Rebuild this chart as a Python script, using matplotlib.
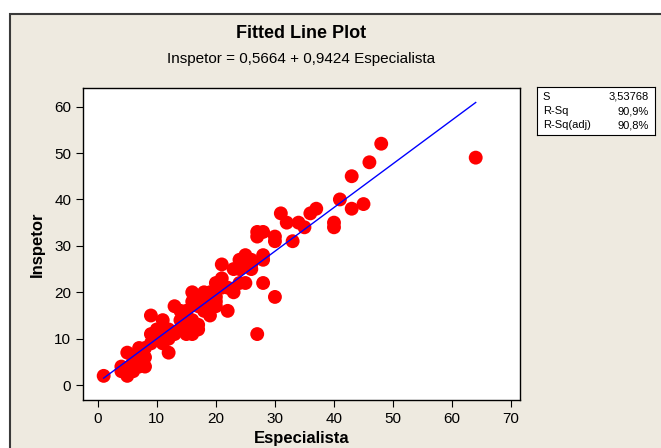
import matplotlib
matplotlib.use("Agg")
import matplotlib.pyplot as plt
from matplotlib.patches import Rectangle
import numpy as np

plt.rcParams["font.family"] = ["Liberation Sans Narrow", "Liberation Sans", "DejaVu Sans"]

# data (Especialista, Inspetor)
especialista = [1, 4, 4, 5, 5, 6, 6, 6, 7, 7, 7, 8, 8, 9, 9, 9, 10, 10, 10, 11,
                11, 11, 12, 12, 13, 13, 14, 14, 15, 15, 15, 16, 16, 16, 16, 16, 17, 17, 17, 17,
                18, 18, 18, 19, 19, 19, 20, 20, 20, 21, 21, 21, 22, 23, 23, 24, 24, 24, 25, 25,
                25, 25, 26, 26, 27, 27, 27, 28, 28, 28, 28, 30, 30, 30, 31, 32, 33, 34, 35, 36,
                37, 40, 40, 41, 43, 43, 45, 46, 48, 64, 8, 12, 14, 15, 18, 20, 22, 26]
inspetor = [2, 3, 4, 2, 7, 3, 5, 6, 4, 7, 8, 4, 8, 9, 11, 15, 10, 12, 11, 9,
            10, 14, 7, 12, 11, 17, 12, 16, 11, 13, 15, 11, 12, 14, 18, 20, 12, 13, 17, 19,
            16, 18, 20, 15, 17, 20, 17, 18, 22, 21, 23, 26, 16, 20, 25, 22, 25, 27, 22, 26,
            27, 28, 25, 26, 11, 32, 33, 22, 27, 28, 33, 19, 31, 32, 37, 35, 31, 35, 34, 37,
            38, 34, 35, 40, 38, 45, 39, 48, 52, 49, 6, 10, 14, 16, 19, 19, 21, 27]

intercept = 0.5664
slope = 0.9424
stats_names = ["S", "R-Sq", "R-Sq(adj)"]
stats_values = ["3,53768", "90,9%", "90,8%"]

W, H = 661, 448
fig = plt.figure(figsize=(W / 100, H / 100), dpi=100, facecolor="white")

# beige panel with dark border on left/top
fig.patches.append(Rectangle((10 / W, -0.01), 1.0, (H - 14) / H + 0.01,
                             transform=fig.transFigure, facecolor="#EEEAE0",
                             edgecolor="#3a3a3a", linewidth=1.5, zorder=-5))

fig.text(0.5 * (83 + 520) / W, 1 - 33 / H, "Fitted Line Plot", ha="center", va="center",
         fontsize=13, fontweight="bold")
fig.text(0.5 * (83 + 520) / W, 1 - 59 / H, "Inspetor = 0,5664 + 0,9424 Especialista",
         ha="center", va="center", fontsize=11)

ax = fig.add_axes([83 / W, 1 - 400 / H, (520 - 83) / W, (400 - 88) / H], zorder=2)
ax.set_facecolor("white")
ax.scatter(especialista, inspetor, s=100, color="#FF0000", edgecolors="none", zorder=2)
xl = np.array([min(especialista), max(especialista)])
ax.plot(xl, intercept + slope * xl, color="#0000FF", linewidth=1, zorder=3)

ax.set_xlim(-2.5, 71.5)
ax.set_ylim(-3.2, 64)
ax.set_xticks(range(0, 71, 10))
ax.set_yticks(range(0, 61, 10))
ax.tick_params(direction="out", length=5, labelsize=11, top=False, right=False)
for sp in ax.spines.values():
    sp.set_linewidth(1)
ax.set_xlabel("Especialista", fontsize=12, fontweight="bold", labelpad=4)
ax.set_ylabel("Inspetor", fontsize=12, fontweight="bold", labelpad=7)

# stats box
sax = fig.add_axes([537 / W, 1 - 135 / H, (655 - 537) / W, (135 - 87) / H], zorder=2)
sax.set_xticks([])
sax.set_yticks([])
sax.set_facecolor("white")
for i, (n, v) in enumerate(zip(stats_names, stats_values)):
    y = 1 - (i + 0.5) / 3 * 0.9 - 0.05
    sax.text(0.05, y, n, ha="left", va="center", fontsize=8, transform=sax.transAxes)
    sax.text(0.95, y, v, ha="right", va="center", fontsize=8, transform=sax.transAxes)

fig.savefig("out.png", dpi=100)
